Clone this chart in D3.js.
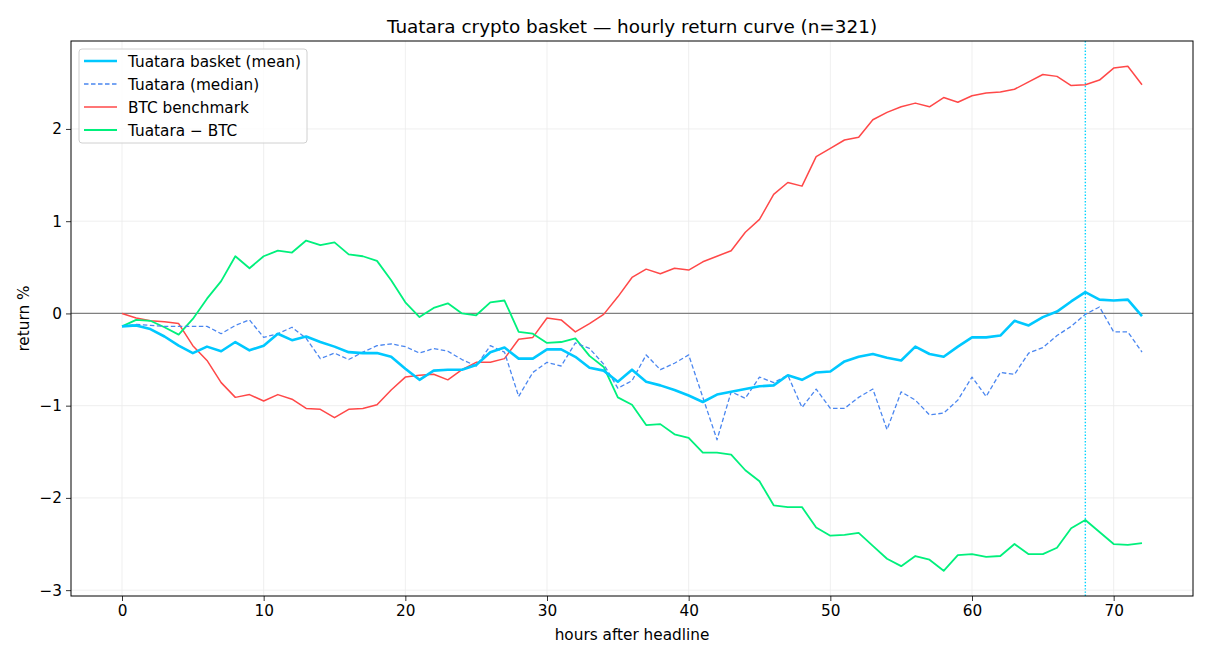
<!DOCTYPE html>
<html>
<head>
<meta charset="utf-8">
<script src="https://cdn.jsdelivr.net/npm/d3@7"></script>
<style>
  body { margin: 0; background: #fff; }
  svg { font-family: "DejaVu Sans", sans-serif; }
</style>
</head>
<body>
<div id="plot"></div>
<script>
"use strict";

// hours after the headline
const hours = d3.range(0, 73);

const basketMean = [
  -0.14, -0.13, -0.17, -0.25, -0.35, -0.43, -0.36, -0.41, -0.31, -0.40,
  -0.35, -0.22, -0.29, -0.25, -0.31, -0.36, -0.42, -0.43, -0.43, -0.47,
  -0.60, -0.72, -0.62, -0.61, -0.61, -0.56, -0.42, -0.37, -0.49, -0.49,
  -0.39, -0.39, -0.47, -0.59, -0.62, -0.74, -0.61, -0.74, -0.78, -0.83,
  -0.89, -0.96, -0.88, -0.85, -0.82, -0.79, -0.78, -0.67, -0.72, -0.64,
  -0.63, -0.52, -0.47, -0.44, -0.48, -0.51, -0.36, -0.44, -0.47, -0.36,
  -0.26, -0.26, -0.24, -0.08, -0.13, -0.04, 0.02, 0.13, 0.23, 0.15,
  0.14, 0.15, -0.03
];

const basketMedian = [
  -0.14, -0.12, -0.13, -0.14, -0.14, -0.14, -0.14, -0.22, -0.13, -0.07,
  -0.26, -0.22, -0.15, -0.27, -0.49, -0.43, -0.50, -0.42, -0.35, -0.33,
  -0.36, -0.43, -0.38, -0.41, -0.50, -0.57, -0.35, -0.42, -0.90, -0.64,
  -0.53, -0.57, -0.32, -0.38, -0.55, -0.81, -0.73, -0.45, -0.61, -0.54,
  -0.45, -0.91, -1.37, -0.85, -0.92, -0.69, -0.75, -0.67, -1.02, -0.82,
  -1.03, -1.03, -0.91, -0.82, -1.26, -0.85, -0.94, -1.10, -1.08, -0.94,
  -0.69, -0.90, -0.64, -0.66, -0.43, -0.37, -0.24, -0.14, -0.01, 0.07,
  -0.20, -0.20, -0.42
];

const btcBenchmark = [
  0.00, -0.05, -0.08, -0.09, -0.11, -0.35, -0.51, -0.75, -0.91, -0.88,
  -0.95, -0.88, -0.93, -1.03, -1.04, -1.13, -1.04, -1.03, -0.99, -0.83,
  -0.69, -0.67, -0.66, -0.72, -0.61, -0.53, -0.53, -0.49, -0.28, -0.26,
  -0.05, -0.07, -0.20, -0.11, -0.01, 0.18, 0.39, 0.48, 0.43, 0.49,
  0.47, 0.56, 0.62, 0.68, 0.88, 1.02, 1.29, 1.42, 1.38, 1.70,
  1.79, 1.88, 1.91, 2.10, 2.18, 2.24, 2.28, 2.24, 2.34, 2.29,
  2.36, 2.39, 2.40, 2.43, 2.51, 2.59, 2.57, 2.47, 2.48, 2.53,
  2.66, 2.68, 2.48
];

const tuataraMinusBtc = [
  -0.14, -0.07, -0.08, -0.15, -0.23, -0.06, 0.16, 0.35, 0.62, 0.49,
  0.62, 0.68, 0.66, 0.79, 0.74, 0.77, 0.64, 0.62, 0.57, 0.36,
  0.12, -0.04, 0.06, 0.11, 0.00, -0.02, 0.12, 0.14, -0.20, -0.22,
  -0.32, -0.31, -0.27, -0.46, -0.58, -0.91, -0.99, -1.21, -1.20, -1.31,
  -1.35, -1.51, -1.51, -1.53, -1.70, -1.82, -2.08, -2.10, -2.10, -2.32,
  -2.41, -2.40, -2.38, -2.52, -2.66, -2.74, -2.63, -2.67, -2.79, -2.62,
  -2.61, -2.64, -2.63, -2.50, -2.61, -2.61, -2.54, -2.33, -2.24, -2.37,
  -2.50, -2.51, -2.49
];

const xTicks = [0, 10, 20, 30, 40, 50, 60, 70];
const yTicks = [-3, -2, -1, 0, 1, 2];
const markerHour = 68;

const msm = {
  width: 1210,
  height: 660,
  left: 71,
  right: 17,
  top: 41,
  bottom: 64
};

const fontTick = "15.3px";
const fontTitle = "18.4px";

const series = [
  { name: "Tuatara basket (mean)", values: basketMean, color: "#00c8ff", width: 2.6, dash: null },
  { name: "Tuatara (median)", values: basketMedian, color: "#4a86f0", width: 1.3, dash: "4.5,2.5" },
  { name: "BTC benchmark", values: btcBenchmark, color: "#ff4848", width: 1.5, dash: null },
  { name: "Tuatara \u2212 BTC", values: tuataraMinusBtc, color: "#00f07c", width: 1.8, dash: null }
];

const svg = d3.select("#plot")
  .append("svg")
  .attr("width", msm.width)
  .attr("height", msm.height);

const x0 = msm.left, x1 = msm.width - msm.right;
const y0 = msm.height - msm.bottom, y1 = msm.top;

// matplotlib style 5% padding on both axes
const xExt = d3.extent(hours);
const xPad = (xExt[1] - xExt[0]) * 0.05;
const allVals = series.flatMap(s => s.values);
const yExt = d3.extent(allVals);
const yPad = (yExt[1] - yExt[0]) * 0.05;

const xScale = d3.scaleLinear()
  .domain([xExt[0] - xPad, xExt[1] + xPad])
  .range([x0, x1]);
const yScale = d3.scaleLinear()
  .domain([yExt[0] - yPad, yExt[1] + yPad])
  .range([y0, y1]);

// grid
const grid = svg.append("g");
grid.selectAll(".gx").data(xTicks).enter().append("line")
  .attr("x1", d => xScale(d)).attr("x2", d => xScale(d))
  .attr("y1", y1).attr("y2", y0)
  .attr("stroke", "#ebebeb").attr("stroke-width", 0.8);
grid.selectAll(".gy").data(yTicks).enter().append("line")
  .attr("x1", x0).attr("x2", x1)
  .attr("y1", d => yScale(d)).attr("y2", d => yScale(d))
  .attr("stroke", "#ebebeb").attr("stroke-width", 0.8);

// zero reference
svg.append("line")
  .attr("x1", x0).attr("x2", x1)
  .attr("y1", yScale(0)).attr("y2", yScale(0))
  .attr("stroke", "#808080").attr("stroke-width", 1.2);

// marker hour
svg.append("line")
  .attr("x1", xScale(markerHour)).attr("x2", xScale(markerHour))
  .attr("y1", y1).attr("y2", y0)
  .attr("stroke", "#00d4ff").attr("stroke-width", 1.4)
  .attr("stroke-dasharray", "1.4,1.8");

// series lines, drawn back to front so the mean sits on top
const line = d3.line()
  .x((d, i) => xScale(hours[i]))
  .y(d => yScale(d));

const drawOrder = [series[2], series[3], series[1], series[0]];
svg.append("g")
  .selectAll("path")
  .data(drawOrder)
  .enter()
  .append("path")
  .attr("d", d => line(d.values))
  .attr("fill", "none")
  .attr("stroke", d => d.color)
  .attr("stroke-width", d => d.width)
  .attr("stroke-dasharray", d => d.dash)
  .attr("stroke-linejoin", "round");

// axes
const xAxis = d3.axisBottom(xScale).tickValues(xTicks).tickSize(5).tickPadding(4).tickFormat(d3.format("d"));
const yAxis = d3.axisLeft(yScale).tickValues(yTicks).tickSize(5).tickPadding(4).tickFormat(d3.format("d"));

const gx = svg.append("g")
  .attr("transform", "translate(0," + y0 + ")")
  .call(xAxis);
const gy = svg.append("g")
  .attr("transform", "translate(" + x0 + ",0)")
  .call(yAxis);
[gx, gy].forEach(g => {
  g.select(".domain").remove();
  g.selectAll("text").attr("font-size", fontTick).attr("fill", "#000")
    .attr("font-family", "DejaVu Sans, sans-serif");
  g.selectAll("line").attr("stroke", "#000").attr("stroke-width", 0.8);
});

// frame
svg.append("rect")
  .attr("x", x0).attr("y", y1)
  .attr("width", x1 - x0).attr("height", y0 - y1)
  .attr("fill", "none").attr("stroke", "#000").attr("stroke-width", 1);

// title and axis labels
svg.append("text")
  .attr("x", (x0 + x1) / 2).attr("y", 33)
  .attr("text-anchor", "middle")
  .style("font-size", fontTitle)
  .text("Tuatara crypto basket \u2014 hourly return curve (n=321)");

svg.append("text")
  .attr("x", (x0 + x1) / 2).attr("y", 640)
  .attr("text-anchor", "middle")
  .style("font-size", fontTick)
  .text("hours after headline");

svg.append("text")
  .attr("transform", "translate(29," + ((y0 + y1) / 2) + ") rotate(-90)")
  .attr("text-anchor", "middle")
  .style("font-size", fontTick)
  .text("return %");

// legend
const legend = svg.append("g").attr("transform", "translate(79,49)");
legend.append("rect")
  .attr("width", 228).attr("height", 94)
  .attr("rx", 3)
  .attr("fill", "#fff").attr("fill-opacity", 0.8)
  .attr("stroke", "#d0d0d0").attr("stroke-width", 1);

const items = legend.selectAll(".item")
  .data(series)
  .enter()
  .append("g")
  .attr("transform", (d, i) => "translate(0," + (12 + i * 23) + ")");
items.append("line")
  .attr("x1", 5).attr("x2", 38)
  .attr("stroke", d => d.color)
  .attr("stroke-width", d => d.width)
  .attr("stroke-dasharray", d => d.dash);
items.append("text")
  .attr("x", 49).attr("y", 5.5)
  .style("font-size", fontTick)
  .text(d => d.name);
</script>
</body>
</html>
